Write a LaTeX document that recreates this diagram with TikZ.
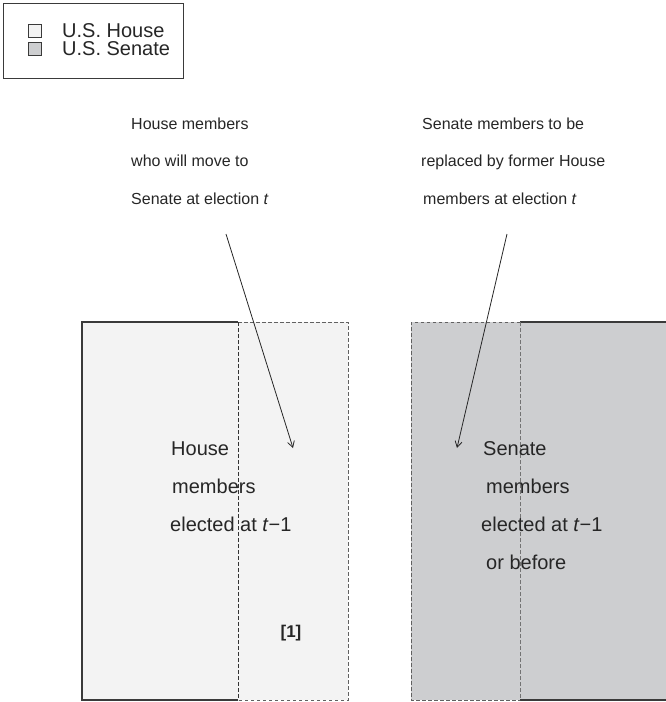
\documentclass[tikz,border=0pt]{standalone}
\usepackage{fontspec}
\setmainfont{Liberation Sans}
\usetikzlibrary{arrows.meta}
\definecolor{housegray}{HTML}{F3F3F3}
\definecolor{senategray}{HTML}{CDCED0}
\definecolor{edgegray}{HTML}{3A3A3A}

\begin{document}
\begin{tikzpicture}[x=1pt,y=-1pt,
    edge/.style={draw=edgegray,line width=1.1pt},
    dashedge/.style={draw=edgegray!80,line width=0.9pt,dash pattern=on 3.5pt off 2.5pt},
    legendtext/.style={anchor=west,inner sep=0pt,text=black!85,font=\fontsize{20}{22}\selectfont},
    note/.style={anchor=north west,inner sep=0pt,align=left,text=black!85,font=\fontsize{16}{37.5}\selectfont},
    boxtext/.style={anchor=north west,inner sep=0pt,align=left,text=black!85,font=\fontsize{20}{38}\selectfont},
    pointer/.style={draw=black!85,line width=0.8pt,-{Straight Barb[length=6pt,width=7pt]}}]
            \useasboundingbox (0,0) rectangle (666,702);
            % legend
            \draw[edgegray,line width=0.9pt] (3,3) rectangle (183,78);
            \draw[edgegray,line width=0.8pt,fill=housegray] (28,24) rectangle (41,37);
            \draw[edgegray,line width=0.8pt,fill=senategray] (28,42) rectangle (41,55);
            \node[legendtext] (houselbl) at (62,30.5) {U.S. House};
            \node[legendtext] (senatelbl) at (62,49) {U.S. Senate};
            % House box
            \fill[housegray] (82,322) rectangle (348,700);
            \draw[edge] (238,322) -- (82,322) -- (82,700) -- (238,700);
            \draw[dashedge] (238,322) -- (348,322) -- (348,700) -- (238,700);
            \draw[dashedge,draw=black!80] (238,322) -- (238,700);
            % Senate box
            \fill[senategray] (411,322) rectangle (666,700);
            \draw[edge] (520,322) -- (666,322);
            \draw[edge] (520,700) -- (666,700);
            \draw[dashedge] (520,322) -- (411,322) -- (411,700) -- (520,700);
            \draw[dashedge,draw=black!55] (520,322) -- (520,700);
            % texts
            \node[note] (movers) at (131,117.5) {House members\\who will move to\\Senate at election \textit{t}};
            \node[note] (replaced) at (421,117.5) {\hspace*{1pt}Senate members to be\\replaced by former House\\\hspace*{2pt}members at election \textit{t}};
            \node[boxtext] (housetxt) at (170,441.5) {\hspace*{1pt}House\\\hspace*{2pt}members\\elected at \textit{t}\textminus 1};
            \node[boxtext] (senatetxt) at (481,441.5) {\hspace*{2pt}Senate\\\hspace*{5pt}members\\elected at \textit{t}\textminus 1\\\hspace*{5pt}or before};
            \node[font=\fontsize{17}{20}\selectfont\bfseries,text=black!85] (one) at (291,633) {[1]};
            % arrows
            \coordinate (hstart) at (226,234);
            \coordinate (hend) at (293,448);
            \coordinate (sstart) at (507,234);
            \coordinate (send) at (457,448);
            \draw[pointer] (hstart) -- (hend);
            \draw[pointer] (sstart) -- (send);
        \end{tikzpicture}
\end{document}
